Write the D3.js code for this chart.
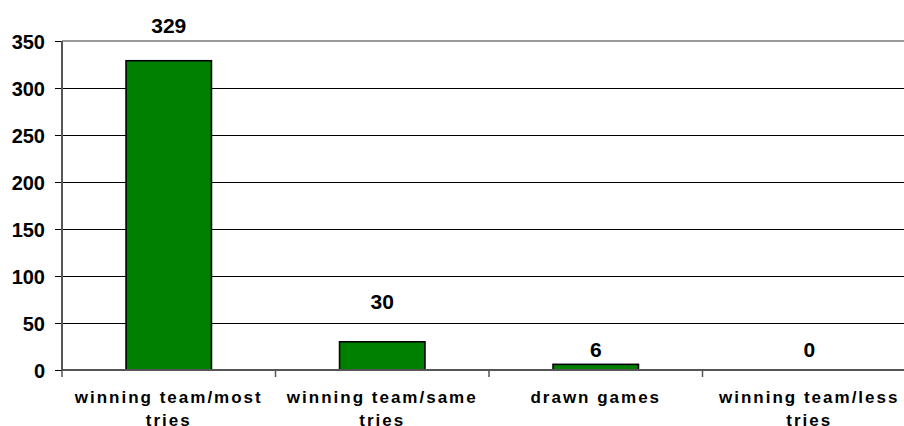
<!DOCTYPE html>
<html>
    <head>
        <script src="https://cdn.jsdelivr.net/npm/d3@7"></script>
        <style>
            body { margin: 0; background: #fff; }
            text { font-family: "Liberation Sans", Arial, sans-serif; font-weight: bold; fill: #000; }
        </style>
    </head>
    <body>
        <div id="viz"></div>
        <script>
            // chart data
            const categories = [
                ["winning team/most", "tries"],
                ["winning team/same", "tries"],
                ["drawn games"],
                ["winning team/less", "tries"]
            ];
            const games = [329, 30, 6, 0];
            const yTicks = [0, 50, 100, 150, 200, 250, 300, 350];

            // how far each value label sits above its bar (labels were placed by hand in the original)
            const labelLift = [28, 33, 7, 13];

            const W = 904, H = 426;
            const plot = {left: 62, right: 916, top: 41, bottom: 370};

            const svg = d3.select("#viz")
                .append("svg")
                .attr("width", W)
                .attr("height", H);

            const keys = categories.map(c => c.join(" "));

            const x = d3.scaleBand()
                .domain(keys)
                .range([plot.left, plot.right])
                .paddingInner(0.6)
                .paddingOuter(0.3);

            const y = d3.scaleLinear()
                .domain([0, 350])
                .range([plot.bottom, plot.top]);

            const crisp = v => Math.round(v) + 0.5;

            // gridlines
            svg.append("g")
                .selectAll("line")
                .data(yTicks.filter(t => t > 0 && t < 350))
                .enter().append("line")
                    .attr("x1", plot.left).attr("x2", plot.right)
                    .attr("y1", d => crisp(y(d))).attr("y2", d => crisp(y(d)))
                    .style("stroke", "#000")
                    .style("stroke-width", 1);

            // top border of plot area
            svg.append("line")
                .attr("x1", plot.left).attr("x2", plot.right)
                .attr("y1", y(350)).attr("y2", y(350))
                .style("stroke", "#9a9a9a")
                .style("stroke-width", 2);

            // y axis
            const yAxis = svg.append("g")
                .attr("transform", "translate(" + plot.left + ",0)")
                .call(d3.axisLeft(y).tickValues(yTicks).tickSize(7).tickPadding(10));
            yAxis.select(".domain").remove();
            yAxis.selectAll(".tick").attr("transform", d => "translate(0," + crisp(y(d)) + ")");
            yAxis.selectAll(".tick line").style("stroke", "#000");
            yAxis.selectAll(".tick text")
                .style("font-size", "20px")
                .attr("dy", "0.36em");

            // bars
            svg.append("g")
                .selectAll("rect")
                .data(games)
                .enter().append("rect")
                    .attr("x", (d, i) => x(keys[i]))
                    .attr("y", d => y(d))
                    .attr("width", x.bandwidth())
                    .attr("height", d => y(0) - y(d))
                    .style("fill", "#008000")
                    .style("stroke", "#000")
                    .style("stroke-width", 1.6);

            // left axis line and baseline
            svg.append("line")
                .attr("x1", plot.left).attr("x2", plot.left)
                .attr("y1", y(350)).attr("y2", y(0))
                .style("stroke", "#555")
                .style("stroke-width", 2);
            svg.append("line")
                .attr("x1", plot.left).attr("x2", plot.right)
                .attr("y1", y(0)).attr("y2", y(0))
                .style("stroke", "#555")
                .style("stroke-width", 2);

            // category separators below the baseline
            const step = x.step();
            svg.append("g")
                .selectAll("line")
                .data(d3.range(keys.length + 1))
                .enter().append("line")
                    .attr("x1", i => plot.left + i * step)
                    .attr("x2", i => plot.left + i * step)
                    .attr("y1", y(0))
                    .attr("y2", y(0) + 7)
                    .style("stroke", "#555")
                    .style("stroke-width", 1.5);

            // value labels
            svg.append("g")
                .selectAll("text")
                .data(games)
                .enter().append("text")
                    .attr("x", (d, i) => x(keys[i]) + x.bandwidth() / 2)
                    .attr("y", (d, i) => y(d) - labelLift[i])
                    .attr("text-anchor", "middle")
                    .style("font-size", "21px")
                    .text(d => d);

            // category labels
            const cat = svg.append("g")
                .selectAll("text")
                .data(categories)
                .enter().append("text")
                    .attr("text-anchor", "middle")
                    .style("font-size", "17px")
                    .style("letter-spacing", "2px")
                    .attr("transform", (d, i) => "translate(" + (x(keys[i]) + x.bandwidth() / 2) + "," + 403 + ")");
            cat.selectAll("tspan")
                .data(d => d)
                .enter().append("tspan")
                    .attr("x", 0)
                    .attr("y", (d, i) => i * 23)
                    .text(d => d);
        </script>
    </body>
</html>
